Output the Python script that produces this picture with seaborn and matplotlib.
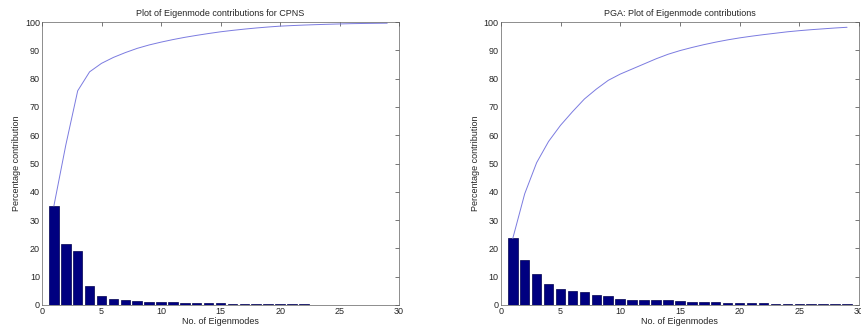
import matplotlib
matplotlib.use('Agg')
import matplotlib.pyplot as plt
import numpy as np
import pandas as pd
import seaborn as sns

# Eigenmode indices
modes = list(range(1, 30))

# CPNS: per-mode contribution (%) and cumulative contribution (%)
cpns_bars = [35.0, 21.5, 19.2, 6.7, 3.0, 2.1, 1.7, 1.5, 1.2, 1.0,
             0.9, 0.8, 0.7, 0.65, 0.6, 0.5, 0.45, 0.4, 0.35, 0.3,
             0.2, 0.18, 0.15, 0.13, 0.12, 0.1, 0.07, 0.05, 0.05]
cpns_cum = [35.0, 56.5, 75.7, 82.4, 85.4, 87.5, 89.2, 90.7, 91.9, 92.9,
            93.8, 94.6, 95.3, 95.95, 96.55, 97.05, 97.5, 97.9, 98.25, 98.55,
            98.75, 98.93, 99.08, 99.21, 99.33, 99.43, 99.5, 99.55, 99.6]

# PGA: per-mode contribution (%) and cumulative contribution (%)
pga_bars = [23.5, 15.8, 11.0, 7.5, 5.7, 4.8, 4.5, 3.5, 3.1, 2.2,
            1.8, 1.8, 1.8, 1.6, 1.3, 1.1, 1.0, 0.9, 0.8, 0.7,
            0.6, 0.55, 0.5, 0.5, 0.4, 0.35, 0.3, 0.3, 0.25]
pga_cum = [23.5, 39.3, 50.3, 57.8, 63.5, 68.3, 72.8, 76.3, 79.4, 81.6,
           83.4, 85.2, 87.0, 88.6, 89.9, 91.0, 92.0, 92.9, 93.7, 94.4,
           95.0, 95.55, 96.05, 96.55, 96.95, 97.3, 97.6, 97.9, 98.15]

titles = ['Plot of Eigenmode contributions for CPNS',
          'PGA: Plot of Eigenmode contributions']

sns.set_style('white')
plt.rcParams['font.family'] = ['Liberation Sans', 'DejaVu Sans']

fig = plt.figure(figsize=(8.62, 3.29), dpi=100)
ax1 = fig.add_axes([0.0487, 0.073, 0.4143, 0.86])
ax2 = fig.add_axes([0.581, 0.073, 0.4155, 0.86])

panels = [(ax1, cpns_bars, cpns_cum, titles[0]),
          (ax2, pga_bars, pga_cum, titles[1])]

for ax, bars, cum, title in panels:
    df = pd.DataFrame({'mode': modes, 'pct': bars, 'cum': cum})
    sns.barplot(data=df, x='mode', y='pct', native_scale=True, width=0.8,
                color='#000080', saturation=1, edgecolor='#000050',
                linewidth=0.5, ax=ax)
    sns.lineplot(data=df, x='mode', y='cum', color='#7b7be0',
                 linewidth=0.7, ax=ax)
    ax.set_xlim(0, 30)
    ax.set_ylim(0, 100)
    ax.set_xticks(range(0, 31, 5))
    ax.set_yticks(range(0, 101, 10))
    ax.tick_params(direction='in', top=True, right=True, length=3,
                   width=0.5, labelsize=6.5, pad=1.5, color='#404040')
    for s in ax.spines.values():
        s.set_linewidth(0.5)
        s.set_color('#606060')
    ax.set_title(title, fontsize=6.5, pad=4)
    ax.set_xlabel('No. of Eigenmodes', fontsize=6.5, labelpad=0.5)
    ax.set_ylabel('Percentage contribution', fontsize=6.5, labelpad=3)

fig.savefig('out.png', dpi=100)
